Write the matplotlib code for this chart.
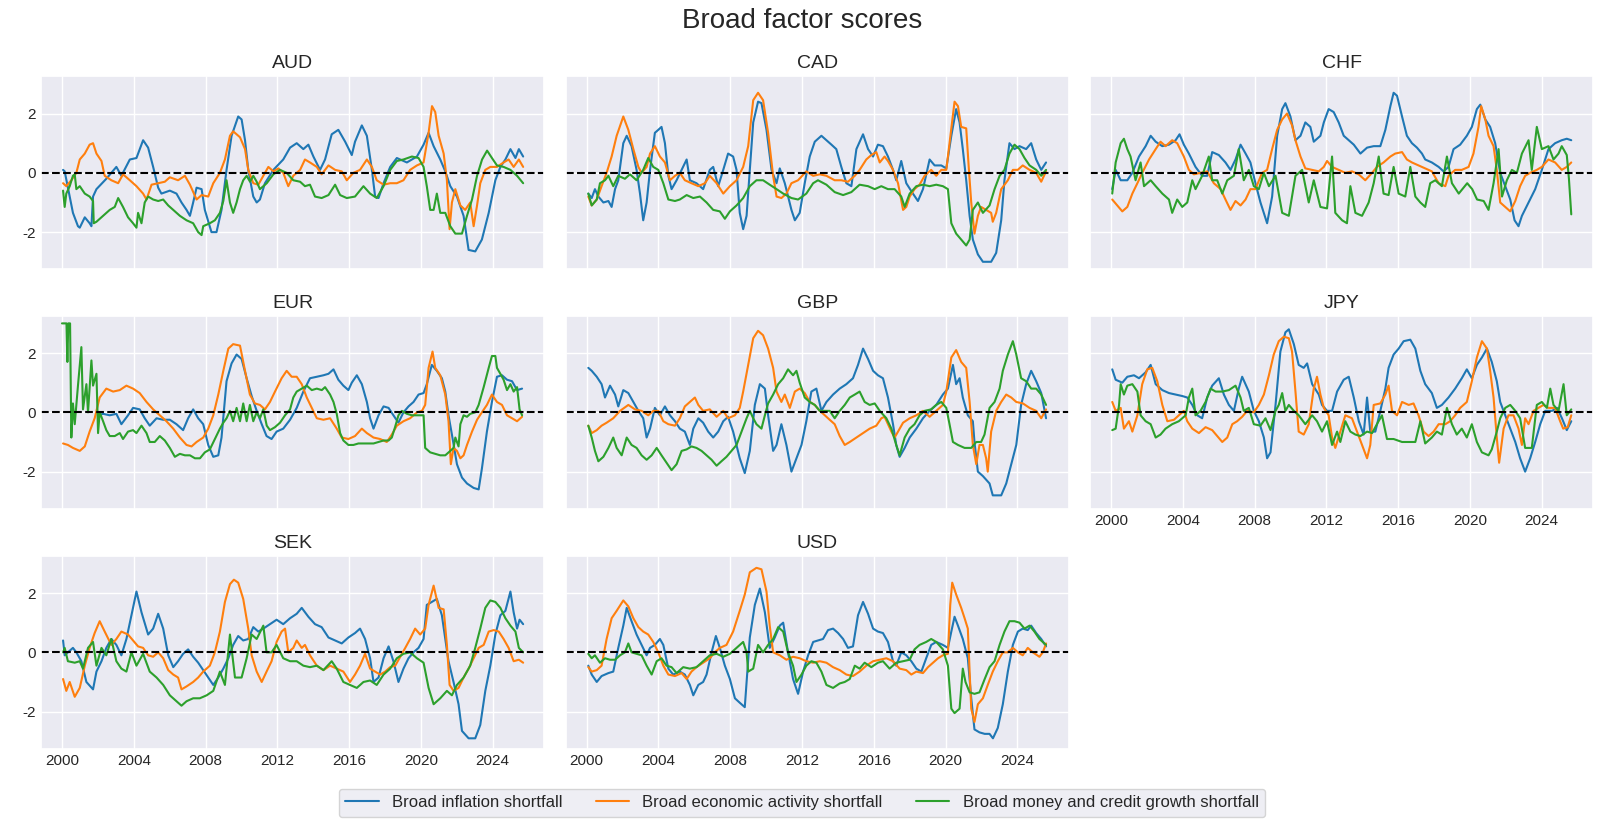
import matplotlib
matplotlib.use("Agg")
import matplotlib.pyplot as plt
import seaborn as sns

sns.set_theme(style="darkgrid")
plt.rcParams['font.family'] = ['Liberation Sans', 'DejaVu Sans']

TITLE = "Broad factor scores"
CURRENCIES = ["AUD", "CAD", "CHF", "EUR", "GBP", "JPY", "SEK", "USD"]
FACTOR_LABELS = ["Broad inflation shortfall", "Broad economic activity shortfall",
                 "Broad money and credit growth shortfall"]
X_TICKS = [2000, 2004, 2008, 2012, 2016, 2020, 2024]
Y_TICKS = [-2, 0, 2]

# (decimal year, score)
AUD_INFL = [(2000.06,0.1),(2000.15,0.05),(2000.61,-1.35),(2000.89,-1.8),(2000.99,-1.85),(2001.27,-1.5),(2001.54,-1.7),(2001.64,-1.8),(2001.73,-0.8),(2001.92,-0.55),(2002.47,-0.2),(2003.03,0.2),(2003.31,-0.1),(2003.78,0.45),(2004.15,0.5),(2004.52,1.1),(2004.80,0.85),(2005.08,0.2),(2005.36,-0.5),(2005.54,-0.7),(2006.01,-0.6),(2006.38,-0.7),(2006.66,-1.0),(2006.94,-1.25),(2007.13,-1.45),(2007.31,-1.0),(2007.50,-0.5),(2007.78,-0.55),(2007.96,-1.25),(2008.33,-2.0),(2008.61,-2.0),(2008.89,-1.25),(2009.17,0.1),(2009.45,1.25),(2009.82,1.9),(2010.01,1.8),(2010.20,1.1),(2010.38,0.1),(2010.66,-0.8),(2010.85,-1.0),(2011.03,-0.9),(2011.31,-0.35),(2011.78,0.1),(2012.33,0.45),(2012.71,0.85),(2013.08,1.0),(2013.45,0.8),(2013.73,0.95),(2014.01,0.55),(2014.38,0.1),(2014.66,0.45),(2015.03,1.3),(2015.40,1.45),(2015.78,1.05),(2016.15,0.6),(2016.33,1.05),(2016.71,1.6),(2016.99,1.25),(2017.27,0.1),(2017.45,-0.8),(2017.64,-0.85),(2017.92,-0.35),(2018.29,0.2),(2018.66,0.5),(2019.22,0.35),(2019.78,0.55),(2020.15,0.95),(2020.43,1.35),(2020.71,0.9),(2021.08,0.45),(2021.36,0.05),(2021.64,-0.45),(2022.01,-0.8),(2022.38,-1.45),(2022.66,-2.6),(2023.03,-2.65),(2023.40,-2.25),(2023.78,-1.35),(2024.15,-0.25),(2024.43,0.2),(2024.71,0.45),(2024.99,0.8),(2025.27,0.5),(2025.46,0.8),(2025.70,0.55)]
AUD_ECON = [(2000.06,-0.35),(2000.24,-0.45),(2000.52,-0.25),(2000.80,0.0),(2000.99,0.45),(2001.27,0.65),(2001.54,0.95),(2001.73,1.0),(2001.92,0.65),(2002.20,0.4),(2002.38,-0.1),(2002.75,-0.25),(2003.13,-0.35),(2003.40,-0.05),(2003.78,-0.25),(2004.15,-0.45),(2004.52,-0.7),(2004.71,-0.9),(2004.99,-0.4),(2005.36,-0.35),(2005.73,-0.3),(2006.01,-0.15),(2006.47,-0.25),(2006.85,-0.1),(2007.13,-0.4),(2007.50,-0.9),(2007.78,-0.75),(2008.15,-0.8),(2008.43,-0.35),(2008.80,0.0),(2009.08,0.45),(2009.36,1.25),(2009.54,1.4),(2009.92,1.2),(2010.20,0.8),(2010.38,0.1),(2010.66,-0.35),(2010.94,-0.4),(2011.22,-0.1),(2011.50,0.2),(2011.78,0.05),(2012.06,0.15),(2012.33,0.0),(2012.61,-0.45),(2012.89,-0.1),(2013.27,0.1),(2013.54,0.45),(2013.82,0.35),(2014.20,0.2),(2014.47,-0.05),(2014.85,0.25),(2015.22,0.1),(2015.59,0.05),(2015.87,-0.25),(2016.24,0.0),(2016.61,0.1),(2016.99,0.45),(2017.27,0.2),(2017.54,-0.25),(2017.92,-0.4),(2018.29,-0.35),(2018.66,-0.35),(2019.03,-0.25),(2019.40,0.1),(2019.78,0.25),(2020.15,0.35),(2020.43,1.35),(2020.62,2.25),(2020.80,2.05),(2020.99,1.25),(2021.27,0.65),(2021.45,-0.25),(2021.60,-1.9),(2021.73,-1.0),(2021.92,-0.55),(2022.20,-1.1),(2022.47,-1.25),(2022.75,-1.0),(2022.94,-1.8),(2023.13,-1.1),(2023.31,-0.35),(2023.59,0.1),(2023.87,0.2),(2024.24,0.2),(2024.61,0.35),(2024.89,0.45),(2025.17,0.2),(2025.46,0.45),(2025.70,0.2)]
AUD_MONEY = [(2000.06,-0.6),(2000.15,-1.15),(2000.24,-0.7),(2000.43,-0.45),(2000.61,-0.1),(2000.71,-0.05),(2000.80,-0.55),(2000.99,-0.45),(2001.27,-0.7),(2001.54,-0.8),(2001.73,-0.95),(2001.77,-1.7),(2001.92,-1.65),(2002.29,-1.45),(2002.66,-1.25),(2002.94,-1.15),(2003.13,-0.85),(2003.40,-1.15),(2003.68,-1.5),(2003.96,-1.7),(2004.15,-1.85),(2004.24,-1.35),(2004.43,-1.7),(2004.61,-1.0),(2004.80,-0.8),(2005.08,-0.9),(2005.36,-0.95),(2005.64,-0.9),(2005.92,-1.1),(2006.20,-1.25),(2006.57,-1.45),(2006.94,-1.6),(2007.31,-1.7),(2007.59,-2.0),(2007.78,-2.1),(2007.87,-1.8),(2008.24,-1.7),(2008.52,-1.6),(2008.80,-1.35),(2008.99,-0.95),(2009.17,-0.25),(2009.36,-1.0),(2009.54,-1.35),(2009.73,-1.0),(2009.92,-0.55),(2010.10,-0.25),(2010.29,-0.1),(2010.48,-0.3),(2010.66,-0.1),(2010.85,-0.3),(2011.03,-0.55),(2011.41,-0.35),(2011.78,-0.05),(2012.15,0.1),(2012.52,0.0),(2012.89,-0.25),(2013.27,-0.3),(2013.54,-0.45),(2013.82,-0.4),(2014.10,-0.8),(2014.47,-0.85),(2014.85,-0.75),(2015.22,-0.4),(2015.50,-0.75),(2015.87,-0.85),(2016.33,-0.8),(2016.80,-0.45),(2017.17,-0.7),(2017.54,-0.85),(2017.92,-0.45),(2018.29,0.1),(2018.66,0.4),(2019.03,0.45),(2019.50,0.55),(2019.87,0.5),(2020.15,0.2),(2020.33,-0.45),(2020.52,-1.25),(2020.71,-1.25),(2020.89,-0.7),(2021.08,-1.35),(2021.36,-1.35),(2021.64,-1.8),(2021.92,-2.05),(2022.29,-2.05),(2022.57,-1.45),(2022.85,-0.9),(2023.13,-0.1),(2023.41,0.45),(2023.69,0.75),(2023.96,0.5),(2024.24,0.25),(2024.61,0.2),(2024.99,0.1),(2025.36,-0.1),(2025.70,-0.35)]

CAD_INFL = [(2000.09,-0.7),(2000.28,-0.85),(2000.46,-0.55),(2000.65,-0.8),(2000.93,-1.0),(2001.21,-0.95),(2001.39,-1.15),(2001.58,-0.55),(2001.76,-0.25),(2002.04,1.0),(2002.23,1.25),(2002.50,0.9),(2002.78,0.1),(2002.97,-0.7),(2003.15,-1.6),(2003.34,-1.0),(2003.53,0.1),(2003.80,1.35),(2003.99,1.45),(2004.17,1.55),(2004.36,1.0),(2004.55,-0.1),(2004.73,-0.55),(2005.01,-0.25),(2005.29,0.1),(2005.57,0.45),(2005.75,-0.25),(2006.12,-0.35),(2006.49,-0.55),(2006.86,0.1),(2007.05,0.2),(2007.33,-0.45),(2007.61,0.1),(2007.88,0.65),(2008.16,0.55),(2008.35,0.1),(2008.53,-1.35),(2008.72,-1.9),(2008.91,-1.45),(2009.09,0.1),(2009.28,1.7),(2009.55,2.4),(2009.74,2.35),(2010.02,1.45),(2010.30,0.1),(2010.58,-0.35),(2010.76,0.15),(2011.04,-0.35),(2011.41,-1.25),(2011.60,-1.6),(2011.87,-1.35),(2012.15,-0.35),(2012.43,0.55),(2012.71,1.05),(2013.08,1.25),(2013.36,1.1),(2013.64,0.95),(2013.91,0.8),(2014.19,0.2),(2014.47,-0.35),(2014.75,-0.45),(2015.03,0.8),(2015.40,1.3),(2015.68,0.8),(2015.96,0.55),(2016.23,0.95),(2016.51,0.9),(2016.79,0.55),(2017.07,0.1),(2017.25,-0.25),(2017.53,0.4),(2017.81,-0.35),(2018.18,-0.7),(2018.46,-0.95),(2018.74,-0.55),(2019.11,0.45),(2019.39,0.25),(2019.76,0.25),(2020.04,0.15),(2020.32,1.25),(2020.59,2.15),(2020.78,1.7),(2020.96,0.8),(2021.15,-0.25),(2021.34,-1.45),(2021.52,-2.25),(2021.80,-2.75),(2022.08,-3.0),(2022.54,-3.0),(2022.82,-2.7),(2023.10,-1.6),(2023.28,-0.25),(2023.56,1.0),(2023.84,0.8),(2024.12,0.9),(2024.49,0.8),(2024.77,1.0),(2025.05,0.45),(2025.33,0.1),(2025.60,0.35)]
CAD_ECON = [(2000.09,-0.8),(2000.28,-1.1),(2000.56,-0.9),(2000.83,-0.45),(2001.11,0.0),(2001.39,0.55),(2001.67,1.25),(2002.04,1.9),(2002.32,1.45),(2002.60,0.8),(2002.88,0.2),(2003.06,0.0),(2003.34,0.2),(2003.53,0.65),(2003.80,0.9),(2004.08,0.55),(2004.36,0.35),(2004.64,-0.25),(2004.92,-0.1),(2005.19,0.0),(2005.47,-0.25),(2005.84,-0.35),(2006.22,-0.45),(2006.59,-0.35),(2006.86,-0.1),(2007.24,-0.35),(2007.61,-0.7),(2007.98,-0.45),(2008.35,-0.25),(2008.72,0.2),(2009.00,0.9),(2009.28,2.45),(2009.55,2.7),(2009.83,2.45),(2010.11,1.35),(2010.39,-0.1),(2010.58,-0.8),(2010.85,-0.85),(2011.13,-0.7),(2011.41,-0.35),(2011.78,-0.25),(2012.24,0.05),(2012.62,-0.1),(2012.99,-0.05),(2013.36,-0.1),(2013.82,-0.25),(2014.19,-0.25),(2014.56,-0.3),(2014.94,-0.1),(2015.21,0.1),(2015.58,0.45),(2015.86,0.6),(2016.14,0.7),(2016.33,0.35),(2016.60,0.55),(2016.79,0.4),(2017.07,0.1),(2017.35,-0.35),(2017.63,-1.25),(2017.81,-1.15),(2018.00,-0.8),(2018.27,-0.55),(2018.55,-0.4),(2018.83,-0.1),(2019.20,0.1),(2019.48,-0.1),(2019.76,0.1),(2020.04,0.1),(2020.22,1.0),(2020.50,2.4),(2020.69,2.25),(2020.87,1.55),(2021.15,1.5),(2021.30,0.1),(2021.43,-1.0),(2021.61,-2.05),(2021.80,-1.45),(2021.98,-1.15),(2022.26,-1.25),(2022.54,-1.35),(2022.63,-1.65),(2022.82,-1.35),(2023.10,-0.55),(2023.47,-0.25),(2023.75,0.1),(2024.02,0.1),(2024.30,0.25),(2024.68,0.1),(2025.05,0.0),(2025.33,-0.3),(2025.60,0.05)]
CAD_MONEY = [(2000.09,-0.7),(2000.28,-1.1),(2000.56,-0.9),(2000.74,-0.35),(2001.02,-0.25),(2001.21,-0.1),(2001.48,-0.45),(2001.76,-0.1),(2002.13,-0.2),(2002.41,-0.05),(2002.78,-0.25),(2003.15,0.1),(2003.43,0.5),(2003.71,0.2),(2003.99,0.1),(2004.27,-0.35),(2004.55,-0.9),(2004.92,-0.95),(2005.19,-0.9),(2005.57,-0.75),(2005.94,-0.85),(2006.31,-0.8),(2006.68,-1.0),(2007.05,-1.25),(2007.42,-1.3),(2007.70,-1.55),(2007.98,-1.3),(2008.35,-1.1),(2008.72,-0.85),(2009.09,-0.45),(2009.46,-0.25),(2009.83,-0.25),(2010.20,-0.4),(2010.58,-0.55),(2010.95,-0.7),(2011.41,-0.85),(2011.78,-0.9),(2012.24,-0.7),(2012.62,-0.35),(2012.89,-0.25),(2013.36,-0.4),(2013.82,-0.65),(2014.29,-0.75),(2014.75,-0.65),(2015.21,-0.4),(2015.68,-0.45),(2016.05,-0.55),(2016.42,-0.45),(2016.79,-0.55),(2017.16,-0.55),(2017.53,-0.8),(2017.72,-1.15),(2018.00,-0.7),(2018.37,-0.45),(2018.74,-0.4),(2019.11,-0.45),(2019.48,-0.4),(2019.85,-0.45),(2020.13,-0.55),(2020.32,-1.7),(2020.59,-2.05),(2020.87,-2.25),(2021.15,-2.45),(2021.34,-2.25),(2021.52,-1.25),(2021.80,-1.0),(2022.08,-1.35),(2022.45,-1.1),(2022.73,-0.55),(2023.01,-0.1),(2023.28,0.1),(2023.56,0.65),(2023.84,0.95),(2024.12,0.8),(2024.40,0.5),(2024.68,0.25),(2025.05,0.1),(2025.33,-0.1),(2025.60,0.1)]

CHF_INFL = [(2000.07,-0.55),(2000.26,0.1),(2000.54,-0.25),(2000.91,-0.25),(2001.19,0.0),(2001.56,0.55),(2001.93,0.9),(2002.21,1.25),(2002.49,1.05),(2002.86,0.9),(2003.23,0.95),(2003.60,1.1),(2003.82,1.3),(2004.06,0.95),(2004.34,0.65),(2004.71,0.2),(2005.08,-0.1),(2005.36,-0.1),(2005.64,0.7),(2006.01,0.6),(2006.38,0.35),(2006.66,0.1),(2006.94,0.45),(2007.22,0.95),(2007.50,0.65),(2007.77,0.35),(2008.05,-0.35),(2008.33,-1.0),(2008.70,-1.7),(2008.98,-0.8),(2009.26,1.25),(2009.54,2.15),(2009.72,2.35),(2010.00,1.9),(2010.28,1.1),(2010.56,1.25),(2010.83,1.7),(2011.11,1.55),(2011.30,1.05),(2011.67,1.25),(2011.86,1.7),(2012.13,2.15),(2012.41,2.05),(2012.69,1.7),(2012.97,1.25),(2013.25,1.1),(2013.53,0.95),(2013.90,0.65),(2014.27,0.85),(2014.64,0.9),(2015.01,0.9),(2015.29,1.45),(2015.57,2.25),(2015.75,2.7),(2015.94,2.6),(2016.22,1.9),(2016.49,1.25),(2016.77,1.0),(2017.05,0.85),(2017.33,0.65),(2017.51,0.45),(2017.88,0.35),(2018.26,0.2),(2018.53,0.05),(2018.81,0.2),(2019.09,0.8),(2019.46,0.95),(2019.83,1.25),(2020.11,1.55),(2020.39,2.15),(2020.58,2.3),(2020.86,1.8),(2021.13,1.55),(2021.41,1.0),(2021.69,0.0),(2021.97,-0.45),(2022.25,-0.9),(2022.49,-1.6),(2022.71,-1.8),(2022.90,-1.45),(2023.27,-1.0),(2023.64,-0.55),(2024.01,0.1),(2024.38,0.8),(2024.75,1.0),(2025.12,1.1),(2025.40,1.15),(2025.65,1.1)]
CHF_ECON = [(2000.07,-0.9),(2000.35,-1.1),(2000.63,-1.3),(2000.91,-1.15),(2001.19,-0.7),(2001.47,-0.35),(2001.74,0.0),(2002.12,0.45),(2002.49,0.8),(2002.76,1.05),(2003.04,0.9),(2003.41,1.1),(2003.69,1.0),(2004.06,0.55),(2004.34,0.1),(2004.62,-0.05),(2004.99,0.0),(2005.36,0.05),(2005.73,-0.35),(2006.11,-0.55),(2006.38,-0.9),(2006.66,-1.25),(2006.94,-0.95),(2007.22,-1.1),(2007.50,-0.9),(2007.77,-0.55),(2008.05,-0.55),(2008.42,0.0),(2008.70,0.1),(2008.98,0.8),(2009.26,1.45),(2009.54,1.8),(2009.81,2.0),(2010.09,1.6),(2010.28,1.1),(2010.56,0.55),(2010.83,0.15),(2011.21,0.1),(2011.58,0.05),(2011.86,0.2),(2012.04,0.4),(2012.32,0.2),(2012.69,0.1),(2013.06,0.0),(2013.43,0.05),(2013.80,-0.05),(2014.17,-0.25),(2014.55,0.0),(2014.82,0.2),(2015.19,0.35),(2015.57,0.55),(2015.84,0.65),(2016.22,0.7),(2016.49,0.45),(2016.77,0.35),(2017.14,0.25),(2017.51,0.15),(2017.88,0.05),(2018.26,-0.35),(2018.63,-0.45),(2018.81,-0.1),(2019.18,0.1),(2019.55,0.1),(2019.93,0.2),(2020.20,0.65),(2020.48,1.55),(2020.63,2.25),(2020.86,1.8),(2021.04,1.25),(2021.32,0.9),(2021.50,0.1),(2021.69,-1.0),(2021.97,-1.15),(2022.25,-1.3),(2022.53,-0.95),(2022.80,-0.45),(2023.08,-0.1),(2023.36,0.0),(2023.73,0.1),(2024.01,0.2),(2024.38,0.45),(2024.75,0.35),(2025.12,0.1),(2025.40,0.2),(2025.65,0.35)]
CHF_MONEY = [(2000.07,-0.7),(2000.26,0.35),(2000.54,1.0),(2000.72,1.15),(2000.91,0.8),(2001.09,0.55),(2001.37,-0.25),(2001.65,0.35),(2001.84,-0.45),(2002.21,-0.25),(2002.49,-0.45),(2002.86,-0.7),(2003.23,-0.9),(2003.41,-1.35),(2003.69,-0.9),(2003.97,-1.15),(2004.25,-1.0),(2004.53,-0.25),(2004.71,-0.55),(2005.08,-0.1),(2005.45,0.55),(2005.64,-0.25),(2005.92,-0.25),(2006.20,-0.7),(2006.48,-0.25),(2006.85,-0.1),(2007.12,0.8),(2007.40,-0.25),(2007.68,0.1),(2007.96,-0.45),(2008.24,-0.55),(2008.52,0.0),(2008.80,-0.45),(2009.17,-0.1),(2009.54,-1.35),(2009.91,-1.45),(2010.28,-0.1),(2010.65,0.1),(2011.02,-1.0),(2011.30,-0.25),(2011.67,-1.15),(2012.04,-1.2),(2012.32,0.55),(2012.50,-1.35),(2012.88,-1.6),(2013.15,-1.7),(2013.34,-0.45),(2013.62,-1.35),(2013.99,-1.45),(2014.36,-1.0),(2014.64,-0.35),(2014.92,0.55),(2015.19,-0.7),(2015.47,-0.75),(2015.75,0.2),(2016.03,-0.7),(2016.40,-0.8),(2016.68,0.2),(2016.96,-0.8),(2017.24,-1.0),(2017.51,-1.15),(2017.79,-0.35),(2018.07,-0.25),(2018.44,-0.45),(2018.72,0.55),(2019.00,-0.35),(2019.38,-0.7),(2019.85,-0.35),(2020.13,-0.55),(2020.40,-0.9),(2020.77,-0.95),(2021.04,-1.25),(2021.32,-0.35),(2021.60,0.8),(2021.79,-0.8),(2022.06,-0.25),(2022.34,0.1),(2022.62,0.0),(2022.90,0.65),(2023.27,1.1),(2023.45,0.1),(2023.73,1.55),(2024.01,0.8),(2024.38,0.9),(2024.66,0.45),(2024.94,0.65),(2025.12,0.9),(2025.40,0.6),(2025.52,-0.2),(2025.65,-1.4)]

EUR_INFL = [(2002.01,-0.1),(2002.29,-0.05),(2002.66,-0.1),(2003.03,-0.05),(2003.31,-0.4),(2003.68,-0.1),(2003.96,0.15),(2004.33,0.1),(2004.61,-0.2),(2004.89,-0.45),(2005.27,-0.2),(2005.64,-0.25),(2006.01,-0.25),(2006.38,-0.4),(2006.75,-0.6),(2007.03,-0.2),(2007.31,0.1),(2007.59,-0.2),(2007.87,-0.4),(2008.15,-1.1),(2008.43,-1.5),(2008.71,-1.45),(2008.89,-0.85),(2009.17,1.05),(2009.45,1.65),(2009.73,1.95),(2010.01,1.8),(2010.29,1.15),(2010.57,0.55),(2010.85,0.05),(2011.13,-0.4),(2011.40,-0.8),(2011.68,-0.9),(2011.96,-0.65),(2012.33,-0.55),(2012.71,-0.25),(2013.08,0.15),(2013.45,0.7),(2013.82,1.15),(2014.20,1.2),(2014.57,1.25),(2014.85,1.3),(2015.13,1.45),(2015.40,1.1),(2015.68,0.9),(2015.96,0.75),(2016.15,1.0),(2016.43,1.25),(2016.71,0.95),(2016.99,0.35),(2017.17,-0.2),(2017.36,-0.55),(2017.64,-0.1),(2017.92,0.2),(2018.20,0.15),(2018.47,-0.1),(2018.75,-0.35),(2019.03,0.0),(2019.31,0.2),(2019.59,0.35),(2019.87,0.6),(2020.15,0.65),(2020.33,0.95),(2020.61,1.6),(2020.89,1.4),(2021.17,1.15),(2021.36,0.7),(2021.54,-0.1),(2021.73,-0.75),(2022.01,-1.75),(2022.29,-2.2),(2022.57,-2.4),(2022.94,-2.55),(2023.22,-2.6),(2023.40,-1.9),(2023.68,-0.65),(2023.96,0.35),(2024.24,1.2),(2024.52,1.25),(2024.80,1.1),(2025.08,1.05),(2025.36,0.75),(2025.64,0.8)]
EUR_ECON = [(2000.06,-1.05),(2000.33,-1.1),(2000.61,-1.2),(2000.99,-1.3),(2001.27,-1.15),(2001.54,-0.65),(2001.82,-0.2),(2002.10,0.5),(2002.47,0.8),(2002.85,0.7),(2003.22,0.75),(2003.59,0.9),(2003.96,0.8),(2004.33,0.65),(2004.71,0.35),(2005.08,0.1),(2005.45,-0.1),(2005.82,-0.3),(2006.20,-0.55),(2006.57,-0.85),(2006.94,-1.1),(2007.22,-1.15),(2007.50,-1.0),(2007.87,-0.85),(2008.15,-0.55),(2008.43,-0.1),(2008.71,0.6),(2008.99,1.4),(2009.27,2.15),(2009.54,2.3),(2009.92,2.25),(2010.20,1.4),(2010.47,0.6),(2010.75,0.3),(2011.03,0.25),(2011.31,0.1),(2011.59,0.35),(2011.87,0.7),(2012.24,1.15),(2012.52,1.4),(2012.80,1.2),(2013.08,1.2),(2013.36,0.95),(2013.64,0.5),(2013.92,0.15),(2014.20,-0.2),(2014.57,-0.25),(2014.94,-0.2),(2015.31,-0.55),(2015.59,-0.85),(2015.96,-0.9),(2016.33,-0.8),(2016.71,-0.55),(2016.99,-0.7),(2017.36,-0.85),(2017.73,-0.9),(2018.10,-1.0),(2018.38,-0.75),(2018.66,-0.45),(2019.03,-0.3),(2019.40,-0.2),(2019.78,0.0),(2020.06,0.05),(2020.24,0.25),(2020.43,1.5),(2020.65,2.05),(2020.80,1.5),(2021.08,1.25),(2021.36,0.6),(2021.54,-0.3),(2021.67,-1.75),(2021.82,-1.2),(2022.01,-1.3),(2022.20,-1.55),(2022.38,-1.45),(2022.57,-1.1),(2022.85,-0.65),(2023.13,-0.25),(2023.40,0.0),(2023.68,0.25),(2023.96,0.6),(2024.24,0.35),(2024.52,0.25),(2024.80,-0.1),(2025.08,-0.2),(2025.36,-0.3),(2025.64,-0.15)]
EUR_MONEY = [(2000.00,3.0),(2000.25,3.0),(2000.30,1.7),(2000.35,3.0),(2000.45,3.0),(2000.52,-0.85),(2000.61,0.3),(2000.71,-0.4),(2000.89,0.9),(2001.08,2.2),(2001.17,0.1),(2001.36,0.95),(2001.45,0.0),(2001.64,1.75),(2001.73,0.9),(2001.92,1.3),(2002.01,-0.7),(2002.10,0.0),(2002.29,-0.3),(2002.47,-0.6),(2002.66,-0.8),(2002.94,-0.8),(2003.22,-0.7),(2003.40,-0.9),(2003.68,-0.65),(2003.96,-0.6),(2004.15,-0.7),(2004.43,-0.45),(2004.71,-0.7),(2004.89,-1.0),(2005.17,-1.0),(2005.45,-0.8),(2005.73,-0.95),(2006.01,-1.2),(2006.29,-1.5),(2006.57,-1.4),(2006.85,-1.45),(2007.13,-1.45),(2007.41,-1.55),(2007.69,-1.55),(2007.96,-1.35),(2008.24,-1.25),(2008.52,-0.9),(2008.80,-0.55),(2008.99,-0.35),(2009.17,-0.2),(2009.36,0.05),(2009.54,-0.3),(2009.73,0.15),(2009.92,-0.3),(2010.10,0.3),(2010.29,-0.3),(2010.47,0.25),(2010.66,-0.3),(2010.85,0.0),(2011.03,-0.2),(2011.22,0.1),(2011.41,-0.45),(2011.59,-0.6),(2011.87,-0.5),(2012.15,-0.35),(2012.43,-0.1),(2012.71,0.1),(2012.89,0.5),(2013.08,0.7),(2013.36,0.8),(2013.64,0.9),(2013.92,0.75),(2014.20,0.8),(2014.48,0.75),(2014.66,0.85),(2014.94,0.6),(2015.13,0.35),(2015.31,-0.05),(2015.50,-0.7),(2015.68,-0.95),(2015.96,-1.1),(2016.24,-1.1),(2016.52,-1.05),(2016.80,-1.05),(2017.08,-1.05),(2017.36,-1.05),(2017.64,-1.0),(2017.92,-0.95),(2018.20,-0.95),(2018.38,-0.85),(2018.56,-0.5),(2018.75,-0.1),(2018.94,0.05),(2019.22,-0.05),(2019.50,-0.1),(2019.78,-0.1),(2020.15,-0.1),(2020.24,-1.2),(2020.52,-1.35),(2020.80,-1.4),(2021.08,-1.45),(2021.36,-1.45),(2021.64,-1.3),(2021.82,-1.2),(2021.92,-0.85),(2022.10,-1.15),(2022.20,-0.4),(2022.38,-0.1),(2022.57,-0.15),(2022.75,-0.05),(2023.03,0.0),(2023.22,0.25),(2023.50,0.85),(2023.78,1.5),(2023.96,1.9),(2024.15,1.9),(2024.24,1.5),(2024.43,1.3),(2024.61,1.1),(2024.80,0.75),(2024.99,0.95),(2025.17,0.7),(2025.36,0.85),(2025.50,0.1),(2025.64,-0.1)]

GBP_INFL = [(2000.09,1.5),(2000.28,1.4),(2000.56,1.2),(2000.83,0.95),(2001.02,0.5),(2001.30,0.9),(2001.58,0.6),(2001.76,0.2),(2002.04,0.75),(2002.32,0.65),(2002.60,0.35),(2002.88,0.05),(2003.15,-0.2),(2003.34,-0.85),(2003.53,-0.55),(2003.80,0.15),(2004.08,-0.1),(2004.36,0.2),(2004.64,-0.1),(2004.92,-0.3),(2005.19,-0.55),(2005.47,-0.65),(2005.75,-1.1),(2005.94,-0.55),(2006.22,-0.2),(2006.49,-0.35),(2006.77,-0.65),(2007.05,-0.85),(2007.33,-0.65),(2007.61,-0.3),(2007.88,-0.15),(2008.16,-0.65),(2008.53,-1.55),(2008.81,-2.05),(2009.09,-1.3),(2009.37,0.25),(2009.65,0.95),(2009.93,0.8),(2010.11,-0.1),(2010.39,-1.3),(2010.58,-1.1),(2010.85,-0.4),(2011.13,-1.1),(2011.41,-2.0),(2011.69,-1.55),(2011.97,-1.1),(2012.24,-0.3),(2012.52,0.7),(2012.80,0.8),(2013.08,0.05),(2013.36,0.35),(2013.73,0.6),(2014.10,0.8),(2014.47,0.95),(2014.84,1.15),(2015.12,1.6),(2015.40,2.15),(2015.68,1.8),(2015.96,1.4),(2016.23,1.25),(2016.51,1.15),(2016.79,0.5),(2017.07,-0.4),(2017.25,-1.1),(2017.44,-1.5),(2017.72,-1.2),(2018.00,-0.85),(2018.37,-0.55),(2018.74,-0.2),(2019.11,0.05),(2019.48,0.25),(2019.85,0.6),(2020.13,0.8),(2020.41,1.6),(2020.59,0.95),(2020.78,1.15),(2020.96,0.5),(2021.24,-0.1),(2021.52,-0.3),(2021.61,-1.0),(2021.80,-2.0),(2022.08,-2.15),(2022.45,-2.4),(2022.63,-2.8),(2023.10,-2.8),(2023.38,-2.4),(2023.66,-1.75),(2023.94,-1.1),(2024.21,0.25),(2024.49,0.95),(2024.77,1.4),(2025.05,1.05),(2025.33,0.65),(2025.60,-0.2)]
GBP_ECON = [(2000.09,-0.45),(2000.28,-0.7),(2000.56,-0.6),(2000.83,-0.45),(2001.11,-0.35),(2001.48,-0.2),(2001.86,0.05),(2002.32,0.25),(2002.69,0.1),(2003.06,0.05),(2003.43,-0.1),(2003.71,0.05),(2003.99,0.05),(2004.27,-0.3),(2004.55,-0.4),(2004.92,-0.45),(2005.19,-0.2),(2005.47,0.2),(2005.75,0.35),(2006.03,0.5),(2006.22,0.25),(2006.49,0.05),(2006.86,0.1),(2007.24,-0.15),(2007.61,0.05),(2007.88,-0.2),(2008.26,-0.1),(2008.53,0.15),(2008.72,0.7),(2009.00,1.6),(2009.28,2.5),(2009.55,2.75),(2009.83,2.6),(2010.11,2.15),(2010.39,1.5),(2010.58,0.7),(2010.85,0.35),(2011.04,0.6),(2011.32,0.15),(2011.60,0.7),(2011.87,0.8),(2012.15,0.65),(2012.43,0.35),(2012.71,0.25),(2012.99,0.05),(2013.27,-0.1),(2013.54,-0.25),(2013.82,-0.4),(2014.10,-0.8),(2014.38,-1.1),(2014.66,-1.0),(2015.03,-0.85),(2015.40,-0.7),(2015.77,-0.55),(2016.14,-0.45),(2016.42,-0.2),(2016.60,-0.15),(2016.79,-0.4),(2016.98,-0.65),(2017.16,-0.85),(2017.35,-0.65),(2017.63,-0.35),(2018.00,-0.2),(2018.37,-0.1),(2018.74,0.05),(2019.11,-0.15),(2019.48,0.05),(2019.85,0.25),(2020.04,0.7),(2020.32,1.85),(2020.59,2.1),(2020.87,1.7),(2021.15,1.5),(2021.34,0.35),(2021.52,-1.1),(2021.71,-1.75),(2021.89,-1.1),(2022.08,-1.1),(2022.26,-1.55),(2022.35,-2.0),(2022.54,-0.65),(2022.82,0.05),(2023.10,0.35),(2023.38,0.6),(2023.66,0.5),(2023.94,0.35),(2024.31,0.3),(2024.68,0.15),(2025.05,0.05),(2025.33,-0.2),(2025.60,0.1)]
GBP_MONEY = [(2000.09,-0.45),(2000.28,-0.85),(2000.46,-1.3),(2000.65,-1.65),(2000.93,-1.5),(2001.21,-1.2),(2001.48,-0.85),(2001.67,-1.2),(2001.95,-1.45),(2002.23,-0.85),(2002.50,-1.1),(2002.78,-1.2),(2003.06,-1.45),(2003.34,-1.6),(2003.62,-1.45),(2003.90,-1.2),(2004.17,-1.45),(2004.45,-1.7),(2004.73,-1.95),(2005.01,-1.75),(2005.29,-1.3),(2005.57,-1.25),(2005.84,-1.15),(2006.12,-1.2),(2006.40,-1.3),(2006.68,-1.45),(2006.96,-1.6),(2007.24,-1.8),(2007.51,-1.65),(2007.79,-1.5),(2008.07,-1.3),(2008.35,-1.1),(2008.63,-0.65),(2008.91,-0.2),(2009.09,0.05),(2009.28,-0.2),(2009.46,-0.4),(2009.74,-0.55),(2009.93,-0.1),(2010.11,0.3),(2010.39,0.6),(2010.67,0.95),(2010.95,1.15),(2011.22,1.45),(2011.50,1.25),(2011.69,1.4),(2011.87,1.0),(2012.15,0.5),(2012.43,0.35),(2012.71,0.25),(2012.99,0.05),(2013.27,0.05),(2013.54,0.05),(2013.82,-0.2),(2014.10,0.05),(2014.38,0.25),(2014.66,0.5),(2014.94,0.6),(2015.21,0.7),(2015.49,0.35),(2015.77,0.25),(2016.05,0.3),(2016.33,0.05),(2016.70,-0.2),(2016.98,-0.55),(2017.25,-1.1),(2017.44,-1.45),(2017.72,-0.85),(2018.00,-0.55),(2018.27,-0.4),(2018.55,-0.1),(2018.83,0.05),(2019.20,0.1),(2019.48,0.25),(2019.76,0.35),(2020.04,0.15),(2020.22,-0.4),(2020.41,-1.0),(2020.69,-1.1),(2021.06,-1.2),(2021.43,-1.2),(2021.71,-1.0),(2021.98,-1.0),(2022.17,-0.75),(2022.45,0.15),(2022.73,0.35),(2023.01,0.8),(2023.19,1.4),(2023.47,1.95),(2023.75,2.4),(2023.94,1.95),(2024.21,1.15),(2024.49,1.05),(2024.77,0.8),(2025.05,0.8),(2025.33,0.6),(2025.60,0.25)]

JPY_INFL = [(2000.07,1.45),(2000.26,1.1),(2000.63,1.0),(2000.91,1.2),(2001.28,1.25),(2001.56,1.15),(2001.93,1.35),(2002.21,1.6),(2002.49,0.95),(2002.86,0.75),(2003.23,0.65),(2003.60,0.6),(2003.97,0.55),(2004.25,0.5),(2004.53,0.25),(2004.81,-0.1),(2005.08,-0.2),(2005.36,0.5),(2005.64,0.9),(2006.01,1.15),(2006.29,0.6),(2006.57,0.25),(2006.85,0.05),(2007.12,0.8),(2007.31,1.2),(2007.68,0.7),(2007.96,0.05),(2008.24,-0.3),(2008.52,-0.85),(2008.70,-1.55),(2008.89,-1.35),(2009.17,0.25),(2009.44,2.05),(2009.72,2.7),(2009.91,2.8),(2010.19,2.3),(2010.46,1.6),(2010.74,1.5),(2010.93,1.65),(2011.21,0.95),(2011.58,0.6),(2011.76,0.25),(2012.04,0.05),(2012.32,0.05),(2012.60,0.7),(2012.97,1.1),(2013.25,1.2),(2013.53,0.5),(2013.81,-0.3),(2014.08,-0.75),(2014.27,0.5),(2014.45,-0.65),(2014.73,-0.65),(2015.01,0.05),(2015.29,0.8),(2015.47,1.5),(2015.75,1.95),(2016.03,2.15),(2016.31,2.4),(2016.68,2.45),(2016.96,2.15),(2017.24,1.4),(2017.51,0.95),(2017.88,0.65),(2018.16,0.15),(2018.44,0.25),(2018.81,0.5),(2019.18,0.8),(2019.55,1.15),(2019.83,1.45),(2020.11,1.15),(2020.39,1.6),(2020.67,1.85),(2020.95,2.15),(2021.22,1.7),(2021.50,1.05),(2021.69,0.35),(2021.97,-0.1),(2022.25,-0.55),(2022.53,-1.0),(2022.80,-1.55),(2023.08,-2.0),(2023.36,-1.55),(2023.64,-1.0),(2023.92,-0.4),(2024.20,0.05),(2024.58,0.05),(2024.86,0.15),(2025.13,-0.2),(2025.40,-0.6),(2025.65,-0.3)]
JPY_ECON = [(2000.07,0.35),(2000.26,0.05),(2000.54,0.15),(2000.72,-0.55),(2001.00,-0.3),(2001.19,-0.65),(2001.47,-0.1),(2001.74,0.95),(2002.02,1.45),(2002.30,1.5),(2002.58,1.05),(2002.86,0.25),(2003.14,-0.3),(2003.51,-0.25),(2003.78,-0.1),(2004.06,0.05),(2004.25,-0.3),(2004.53,-0.55),(2004.90,-0.7),(2005.27,-0.5),(2005.64,-0.6),(2005.92,-0.8),(2006.20,-1.0),(2006.48,-0.85),(2006.76,-0.4),(2007.03,-0.3),(2007.31,-0.15),(2007.59,0.05),(2007.96,0.0),(2008.24,0.25),(2008.52,0.6),(2008.80,1.25),(2009.07,1.95),(2009.35,2.4),(2009.63,2.55),(2009.91,2.5),(2010.09,2.05),(2010.28,0.7),(2010.46,-0.65),(2010.74,-0.75),(2011.02,-0.4),(2011.30,0.8),(2011.48,1.2),(2011.67,0.6),(2011.86,0.15),(2012.13,-0.1),(2012.32,-0.85),(2012.50,-1.2),(2012.78,-0.65),(2013.06,-0.1),(2013.43,-0.2),(2013.71,-0.65),(2013.99,-1.1),(2014.27,-1.55),(2014.45,-1.1),(2014.64,0.25),(2015.01,0.3),(2015.29,0.6),(2015.47,0.9),(2015.66,0.05),(2015.94,-0.1),(2016.22,0.35),(2016.59,0.25),(2016.86,0.3),(2017.14,-0.1),(2017.42,-0.65),(2017.70,-0.8),(2017.98,-0.65),(2018.26,-0.4),(2018.63,-0.4),(2018.90,-0.3),(2019.18,-0.1),(2019.46,0.15),(2019.83,0.35),(2020.11,1.05),(2020.39,1.85),(2020.67,2.4),(2020.95,2.15),(2021.13,1.4),(2021.32,0.5),(2021.50,-0.85),(2021.63,-1.7),(2021.88,-0.55),(2022.15,-0.1),(2022.43,-0.1),(2022.71,-0.55),(2022.90,-1.1),(2023.08,-0.2),(2023.27,-0.4),(2023.55,0.05),(2023.82,0.15),(2024.10,0.25),(2024.38,0.15),(2024.75,0.15),(2025.03,-0.3),(2025.20,-0.55),(2025.45,-0.5),(2025.65,-0.1)]
JPY_MONEY = [(2000.07,-0.6),(2000.26,-0.55),(2000.45,0.25),(2000.54,0.95),(2000.72,0.6),(2000.91,0.9),(2001.19,0.95),(2001.47,0.7),(2001.65,-0.1),(2001.93,-0.3),(2002.21,-0.4),(2002.49,-0.85),(2002.76,-0.75),(2003.04,-0.55),(2003.41,-0.4),(2003.78,-0.3),(2004.16,-0.1),(2004.34,0.5),(2004.53,0.8),(2004.71,-0.1),(2004.99,0.05),(2005.27,0.35),(2005.55,0.8),(2005.83,0.7),(2006.20,0.7),(2006.57,0.75),(2006.94,0.9),(2007.22,0.5),(2007.40,0.05),(2007.68,0.15),(2007.96,-0.4),(2008.33,-0.45),(2008.61,-0.2),(2008.89,-0.6),(2009.17,0.05),(2009.35,0.25),(2009.54,0.65),(2009.72,0.05),(2009.91,0.25),(2010.19,0.05),(2010.46,-0.1),(2010.83,-0.4),(2011.21,-0.1),(2011.48,-0.3),(2011.76,-0.65),(2012.04,-0.3),(2012.32,-1.1),(2012.60,-0.65),(2012.78,-1.0),(2013.06,-0.3),(2013.34,-0.65),(2013.62,-0.75),(2013.90,-0.8),(2014.27,-0.65),(2014.55,-0.7),(2014.82,-0.4),(2015.10,-0.1),(2015.38,-0.9),(2015.75,-0.9),(2016.22,-1.0),(2016.59,-1.0),(2016.96,-1.0),(2017.24,-0.3),(2017.51,-1.05),(2017.88,-0.85),(2018.16,-0.65),(2018.44,-0.75),(2018.72,0.15),(2019.00,-0.4),(2019.27,-0.75),(2019.55,-0.55),(2019.83,-0.85),(2020.11,-0.4),(2020.39,-1.0),(2020.67,-1.35),(2021.04,-1.45),(2021.22,-1.25),(2021.50,-0.65),(2021.69,-0.2),(2021.97,0.15),(2022.25,0.25),(2022.53,0.05),(2022.80,-0.2),(2023.08,-1.2),(2023.45,-1.2),(2023.73,0.25),(2024.01,0.35),(2024.29,0.15),(2024.48,0.8),(2024.66,0.25),(2024.94,0.05),(2025.22,0.95),(2025.40,-0.1),(2025.65,0.1)]

SEK_INFL = [(2000.06,0.4),(2000.15,-0.1),(2000.33,0.0),(2000.61,0.15),(2000.80,0.0),(2001.08,-0.3),(2001.36,-1.0),(2001.73,-1.25),(2001.92,-0.65),(2002.20,-0.3),(2002.47,0.15),(2002.75,0.45),(2003.03,0.25),(2003.31,-0.1),(2003.59,0.45),(2003.87,1.25),(2004.15,2.05),(2004.43,1.35),(2004.80,0.6),(2005.08,0.8),(2005.36,1.3),(2005.64,0.8),(2005.92,-0.1),(2006.20,-0.5),(2006.47,-0.3),(2006.75,-0.05),(2007.03,0.1),(2007.31,-0.15),(2007.59,-0.35),(2007.87,-0.6),(2008.15,-0.85),(2008.43,-1.1),(2008.71,-0.85),(2008.99,-0.55),(2009.27,-0.2),(2009.54,0.25),(2009.82,0.55),(2010.10,0.4),(2010.38,0.45),(2010.66,0.85),(2010.94,0.7),(2011.22,0.8),(2011.59,0.95),(2011.96,1.1),(2012.33,0.95),(2012.71,1.15),(2013.08,1.3),(2013.36,1.5),(2013.73,1.2),(2014.10,0.95),(2014.47,0.85),(2014.85,0.5),(2015.22,0.4),(2015.59,0.3),(2015.96,0.5),(2016.33,0.65),(2016.61,0.8),(2016.89,0.45),(2017.17,-0.2),(2017.36,-1.0),(2017.64,-0.85),(2017.92,-0.2),(2018.20,0.2),(2018.47,-0.3),(2018.75,-1.0),(2019.03,-0.55),(2019.31,-0.2),(2019.59,0.0),(2019.87,0.15),(2020.15,0.45),(2020.33,1.6),(2020.61,1.7),(2020.89,1.8),(2021.17,1.25),(2021.36,0.45),(2021.54,-0.3),(2021.82,-1.0),(2022.10,-1.75),(2022.29,-2.65),(2022.66,-2.9),(2023.03,-2.9),(2023.31,-2.45),(2023.59,-1.3),(2023.87,-0.45),(2024.15,0.6),(2024.43,1.25),(2024.71,1.4),(2024.99,2.05),(2025.17,1.35),(2025.36,0.8),(2025.50,1.1),(2025.70,0.95)]
SEK_ECON = [(2000.06,-0.9),(2000.24,-1.3),(2000.43,-1.0),(2000.71,-1.5),(2000.99,-1.2),(2001.27,-0.45),(2001.54,0.15),(2001.82,0.65),(2002.10,1.05),(2002.38,0.7),(2002.75,0.25),(2003.03,0.45),(2003.31,0.7),(2003.68,0.6),(2003.96,0.4),(2004.24,0.2),(2004.52,0.15),(2004.80,-0.1),(2005.08,-0.15),(2005.36,0.0),(2005.64,-0.2),(2005.92,-0.6),(2006.20,-0.75),(2006.47,-0.85),(2006.66,-1.25),(2006.94,-1.15),(2007.31,-1.0),(2007.59,-0.85),(2007.87,-0.65),(2008.24,-0.45),(2008.52,0.0),(2008.80,0.7),(2009.08,1.7),(2009.36,2.3),(2009.58,2.45),(2009.82,2.35),(2010.10,1.8),(2010.38,0.8),(2010.57,-0.1),(2010.85,-0.65),(2011.13,-1.0),(2011.40,-0.65),(2011.68,-0.3),(2011.96,0.35),(2012.24,0.7),(2012.43,0.8),(2012.61,0.0),(2012.89,0.15),(2013.08,0.4),(2013.36,0.15),(2013.54,0.25),(2013.82,-0.1),(2014.20,-0.45),(2014.57,-0.6),(2014.94,-0.45),(2015.31,-0.55),(2015.68,-0.65),(2016.05,-1.0),(2016.33,-0.75),(2016.61,-0.45),(2016.89,-0.05),(2017.17,-0.55),(2017.45,-0.65),(2017.73,-0.75),(2018.01,-0.65),(2018.29,-0.5),(2018.57,-0.45),(2018.85,-0.15),(2019.13,0.15),(2019.40,0.45),(2019.68,0.8),(2019.96,0.6),(2020.24,0.8),(2020.43,1.6),(2020.71,2.25),(2020.99,1.5),(2021.27,1.45),(2021.45,0.25),(2021.60,-1.1),(2021.82,-1.3),(2022.10,-1.2),(2022.38,-0.85),(2022.66,-0.55),(2022.94,-0.2),(2023.22,0.15),(2023.50,0.25),(2023.78,0.7),(2024.06,0.75),(2024.34,0.7),(2024.61,0.45),(2024.89,0.15),(2025.17,-0.3),(2025.46,-0.25),(2025.70,-0.35)]
SEK_MONEY = [(2000.06,0.0),(2000.15,0.15),(2000.33,-0.3),(2000.71,-0.35),(2000.99,-0.3),(2001.17,-0.55),(2001.45,0.15),(2001.73,0.35),(2001.92,-0.45),(2002.20,0.15),(2002.47,-0.1),(2002.75,0.45),(2003.03,-0.3),(2003.31,-0.55),(2003.59,-0.65),(2003.87,0.0),(2004.15,-0.45),(2004.52,-0.05),(2004.89,-0.65),(2005.27,-0.85),(2005.64,-1.1),(2006.01,-1.45),(2006.38,-1.65),(2006.66,-1.8),(2006.94,-1.65),(2007.31,-1.55),(2007.68,-1.55),(2008.06,-1.45),(2008.43,-1.3),(2008.80,-0.65),(2009.08,-1.1),(2009.36,0.6),(2009.64,-0.85),(2010.01,-0.85),(2010.29,-0.2),(2010.57,0.6),(2010.85,0.45),(2011.22,0.9),(2011.40,0.0),(2011.68,0.0),(2011.96,0.25),(2012.33,-0.2),(2012.71,-0.3),(2013.08,-0.3),(2013.45,-0.45),(2013.82,-0.5),(2014.20,-0.45),(2014.57,-0.6),(2015.03,-0.3),(2015.31,-0.55),(2015.68,-1.0),(2016.05,-1.1),(2016.43,-1.2),(2016.80,-1.0),(2017.17,-0.95),(2017.54,-1.1),(2017.92,-0.75),(2018.29,-0.55),(2018.66,-0.2),(2019.03,-0.05),(2019.40,0.0),(2019.78,-0.2),(2020.15,-0.35),(2020.43,-1.2),(2020.71,-1.75),(2021.08,-1.55),(2021.45,-1.3),(2021.73,-1.45),(2022.01,-1.1),(2022.38,-0.85),(2022.75,-0.45),(2023.03,0.15),(2023.31,0.8),(2023.59,1.5),(2023.87,1.75),(2024.15,1.7),(2024.43,1.5),(2024.71,1.15),(2024.99,0.9),(2025.27,0.7),(2025.46,0.15),(2025.70,0.0)]

USD_INFL = [(2000.09,-0.45),(2000.28,-0.75),(2000.56,-1.0),(2000.83,-0.8),(2001.21,-0.7),(2001.48,-0.65),(2001.76,0.15),(2002.04,0.9),(2002.23,1.5),(2002.50,1.05),(2002.78,0.6),(2003.06,0.25),(2003.34,-0.1),(2003.53,0.15),(2003.80,0.25),(2004.08,0.45),(2004.27,0.25),(2004.55,-0.55),(2004.82,-0.75),(2005.19,-0.65),(2005.47,-0.75),(2005.75,-1.1),(2005.94,-1.45),(2006.22,-1.1),(2006.49,-1.0),(2006.68,-0.75),(2006.96,0.0),(2007.20,0.55),(2007.42,0.15),(2007.70,-0.45),(2007.98,-0.9),(2008.26,-1.55),(2008.53,-1.7),(2008.81,-1.85),(2009.09,0.5),(2009.37,1.6),(2009.65,2.15),(2009.93,1.35),(2010.20,0.15),(2010.48,0.5),(2010.76,0.9),(2010.95,1.0),(2011.22,0.0),(2011.50,-0.9),(2011.78,-1.4),(2012.06,-0.65),(2012.34,-0.1),(2012.62,0.35),(2012.89,0.4),(2013.17,0.45),(2013.45,0.75),(2013.73,0.8),(2014.01,0.65),(2014.29,0.45),(2014.56,0.15),(2014.84,0.2),(2015.12,1.25),(2015.40,1.7),(2015.68,1.3),(2015.96,0.8),(2016.23,0.7),(2016.51,0.65),(2016.79,0.35),(2017.07,-0.3),(2017.25,-0.45),(2017.53,0.0),(2017.81,-0.1),(2018.09,-0.3),(2018.37,-0.55),(2018.65,-0.65),(2018.92,-0.2),(2019.20,0.25),(2019.48,0.35),(2019.85,0.25),(2020.13,0.15),(2020.32,0.7),(2020.50,1.2),(2020.69,0.9),(2020.96,0.45),(2021.24,-0.2),(2021.43,-1.55),(2021.61,-2.6),(2021.89,-2.7),(2022.18,-2.75),(2022.45,-2.75),(2022.64,-2.9),(2022.91,-2.55),(2023.19,-1.75),(2023.47,-0.65),(2023.75,0.25),(2024.03,0.7),(2024.30,0.8),(2024.58,0.75),(2024.77,0.9),(2025.05,0.65),(2025.33,0.45),(2025.60,0.2)]
USD_ECON = [(2000.09,-0.5),(2000.28,-0.65),(2000.56,-0.6),(2000.83,-0.45),(2001.11,0.45),(2001.39,1.15),(2001.67,1.4),(2002.04,1.75),(2002.32,1.55),(2002.60,1.15),(2002.88,0.85),(2003.15,0.7),(2003.43,0.6),(2003.71,0.35),(2003.99,0.0),(2004.27,-0.45),(2004.55,-0.75),(2004.92,-0.8),(2005.29,-0.7),(2005.57,-0.9),(2005.84,-0.65),(2006.12,-0.5),(2006.49,-0.35),(2006.86,-0.2),(2007.14,0.0),(2007.42,0.15),(2007.79,0.25),(2008.16,0.7),(2008.53,1.4),(2008.81,1.95),(2009.09,2.7),(2009.46,2.85),(2009.74,2.8),(2010.02,2.05),(2010.20,0.9),(2010.39,0.0),(2010.76,-0.1),(2011.13,-0.25),(2011.50,-0.15),(2011.87,-0.2),(2012.24,-0.3),(2012.62,-0.35),(2012.99,-0.3),(2013.36,-0.35),(2013.73,-0.5),(2014.10,-0.6),(2014.47,-0.75),(2014.84,-0.8),(2015.21,-0.65),(2015.58,-0.45),(2015.96,-0.3),(2016.33,-0.25),(2016.70,-0.2),(2017.07,-0.3),(2017.44,-0.55),(2017.81,-0.6),(2018.09,-0.75),(2018.37,-0.65),(2018.74,-0.7),(2019.02,-0.5),(2019.30,-0.35),(2019.58,-0.2),(2019.85,-0.1),(2020.13,-0.05),(2020.26,1.6),(2020.37,2.35),(2020.59,1.95),(2020.87,1.5),(2021.06,1.15),(2021.24,0.8),(2021.34,-0.65),(2021.43,-1.9),(2021.61,-2.35),(2021.80,-1.75),(2022.08,-1.55),(2022.35,-1.1),(2022.63,-0.65),(2022.91,-0.3),(2023.19,0.0),(2023.47,0.0),(2023.75,0.15),(2024.03,0.0),(2024.30,-0.1),(2024.58,0.15),(2024.86,0.0),(2025.23,-0.15),(2025.42,0.0),(2025.60,0.3)]
USD_MONEY = [(2000.09,-0.05),(2000.28,-0.2),(2000.46,-0.1),(2000.74,-0.35),(2001.02,-0.2),(2001.30,-0.25),(2001.58,-0.25),(2001.86,-0.1),(2002.13,0.0),(2002.32,0.3),(2002.50,0.0),(2002.78,-0.05),(2003.06,-0.1),(2003.34,-0.45),(2003.62,-0.75),(2003.90,-0.3),(2004.17,-0.2),(2004.45,-0.45),(2004.73,-0.5),(2005.01,-0.7),(2005.38,-0.5),(2005.75,-0.55),(2006.12,-0.5),(2006.49,-0.3),(2006.86,-0.1),(2007.24,-0.05),(2007.61,-0.15),(2007.98,-0.05),(2008.35,0.15),(2008.72,0.35),(2008.91,0.0),(2009.00,-0.65),(2009.28,-0.55),(2009.55,0.25),(2009.83,0.0),(2010.11,0.25),(2010.39,0.45),(2010.67,0.85),(2010.95,0.7),(2011.22,0.0),(2011.50,-0.45),(2011.69,-1.0),(2011.97,-0.75),(2012.24,-0.45),(2012.52,-0.3),(2012.80,-0.35),(2013.08,-0.65),(2013.36,-1.1),(2013.73,-1.2),(2014.10,-1.05),(2014.38,-1.0),(2014.66,-0.9),(2014.94,-0.45),(2015.21,-0.55),(2015.49,-0.35),(2015.86,-0.5),(2016.23,-0.35),(2016.51,-0.3),(2016.88,-0.55),(2017.25,-0.35),(2017.63,-0.3),(2018.00,-0.25),(2018.27,0.1),(2018.55,0.25),(2018.92,0.35),(2019.20,0.45),(2019.48,0.35),(2019.85,0.1),(2020.13,-0.45),(2020.32,-1.9),(2020.50,-2.05),(2020.78,-1.9),(2020.96,-0.55),(2021.11,-1.0),(2021.34,-1.35),(2021.61,-1.4),(2021.89,-1.35),(2022.18,-0.9),(2022.45,-0.5),(2022.73,-0.3),(2023.01,0.25),(2023.28,0.7),(2023.56,1.05),(2023.84,1.05),(2024.12,1.0),(2024.40,0.8),(2024.68,0.9),(2024.95,0.7),(2025.23,0.45),(2025.60,0.25)]

SERIES = {
    "AUD": (AUD_INFL, AUD_ECON, AUD_MONEY),
    "CAD": (CAD_INFL, CAD_ECON, CAD_MONEY),
    "CHF": (CHF_INFL, CHF_ECON, CHF_MONEY),
    "EUR": (EUR_INFL, EUR_ECON, EUR_MONEY),
    "GBP": (GBP_INFL, GBP_ECON, GBP_MONEY),
    "JPY": (JPY_INFL, JPY_ECON, JPY_MONEY),
    "SEK": (SEK_INFL, SEK_ECON, SEK_MONEY),
    "USD": (USD_INFL, USD_ECON, USD_MONEY),
}
COLORS = ["#1f77b4", "#ff7f0e", "#2ca02c"]

fig = plt.figure(figsize=(16.04, 8.25), dpi=100)
lefts = [0.02556, 0.35268, 0.67955]
bottoms = [0.6737, 0.3834, 0.0925]
width, height = 0.3138, 0.2336

handles = []
for i, cur in enumerate(CURRENCIES):
    r, c = divmod(i, 3)
    ax = fig.add_axes([lefts[c], bottoms[r], width, height])
    for series, color, label in zip(SERIES[cur], COLORS, FACTOR_LABELS):
        xs = [p[0] for p in series]
        ys = [p[1] for p in series]
        ln, = ax.plot(xs, ys, color=color, lw=1.5, label=label)
        if i == 0:
            handles.append(ln)
    ax.axhline(0, color="black", ls="--", lw=1.5)
    ax.set_xlim(1998.83, 2026.88)
    ax.set_ylim(-3.25, 3.25)
    ax.set_xticks(X_TICKS)
    ax.set_yticks(Y_TICKS)
    ax.set_title(cur, fontsize=14, pad=6)
    show_x = cur in ("SEK", "USD", "JPY")
    ax.set_xticklabels([str(t) for t in X_TICKS] if show_x else [])
    ax.set_yticklabels([str(t) for t in Y_TICKS] if c == 0 else [])
    ax.tick_params(axis="both", labelsize=11, length=0, pad=4)

fig.suptitle(TITLE, fontsize=20, y=0.975, va="center")
fig.legend(handles, FACTOR_LABELS, loc="lower center", ncol=3,
           bbox_to_anchor=(0.5, 0.0097), borderaxespad=0, fontsize=12)
fig.savefig("out.png", dpi=100)
